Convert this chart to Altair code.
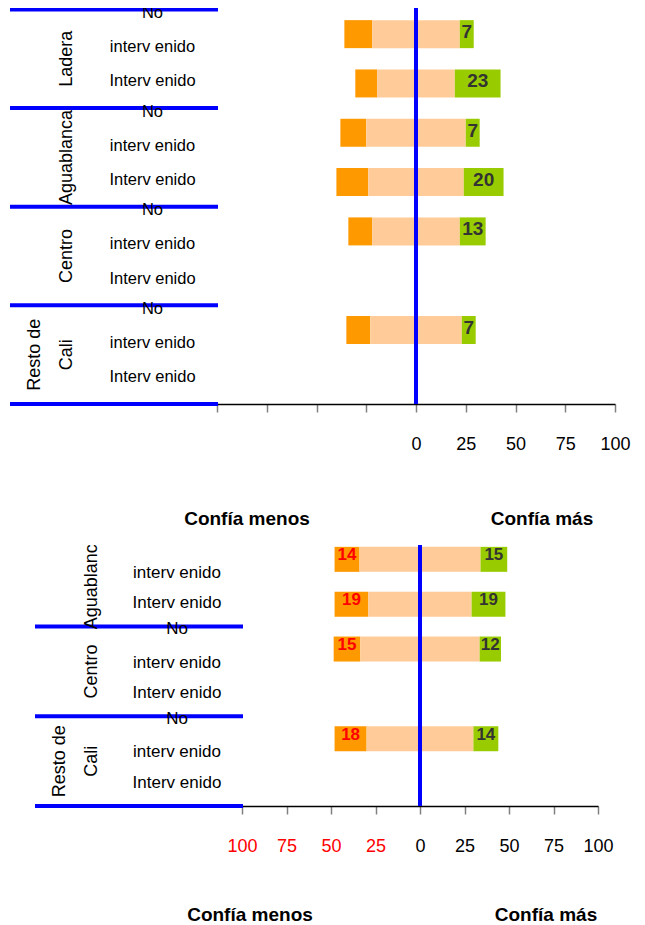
import altair as alt
import pandas as pd

FONT = "Liberation Sans, Arial, sans-serif"

ORANGE, PEACH, GREEN, BLUE = "#FF9900", "#FFCC99", "#99CC00", "#0000FF"

# ---------------- data ----------------
row_names = ["No\ninterv enido", "Interv enido"]
title_less, title_more = "Confía menos", "Confía más"

# top panel
top_groups = ["Ladera", "Aguablanca", "Centro", "Resto de\nCali"]
top_bar_group = [0, 0, 1, 1, 2, 3]          # index into top_groups
top_bar_row = [0, 1, 0, 1, 0, 0]            # 0 = No intervenido, 1 = Intervenido
top_orange = [14, 11, 13, 16, 12, 12]
top_neutral = [44, 39, 50, 48, 44, 46]
top_green = [7, 23, 7, 20, 13, 7]

# bottom panel
bot_groups = ["Aguablanca", "Centro", "Resto de\nCali"]
bot_bar_group = [0, 0, 1, 2]
bot_bar_row = [0, 1, 0, 0]
bot_orange = [14, 19, 15, 18]
bot_neutral = [68, 58, 67, 60]
bot_green = [15, 19, 12, 14]

ticks = [-100, -75, -50, -25, 0, 25, 50, 75, 100]
segs = ["menos", "neutral", "más"]


def bar_table(gi, ri, orange, neutral, green):
    recs = []
    for g, r, o, n, gr in zip(gi, ri, orange, neutral, green):
        pos = 2 * g + r + 0.5
        h = n / 2
        recs.append(dict(pos=pos, seg="menos", x0=-(h + o), x1=-h, val=o, mid=-(h + o / 2)))
        recs.append(dict(pos=pos, seg="neutral", x0=-h, x1=h, val=n, mid=0))
        recs.append(dict(pos=pos, seg="más", x0=h, x1=h + gr, val=gr, mid=h + gr / 2))
    return pd.DataFrame(recs)


def panel(groups, bars_df, ydom, W, P, H, lay):
    yscale = alt.Scale(domain=ydom, reverse=True, nice=False, zero=False, padding=0)
    xscale = alt.Scale(domain=[-100, 100], range=[W, W + P], nice=False, zero=False, padding=0)
    total = W + P

    rows = pd.DataFrame([dict(pos=2 * g + r + 0.5, r=r, label=row_names[r])
                         for g in range(len(groups)) for r in range(2)])
    grps = pd.DataFrame([dict(pos=2 * g + 1, group=name, multi=("\n" in name))
                         for g, name in enumerate(groups)])
    bdf = pd.DataFrame({"b": lay["bounds"]})
    bdf["edge"] = bdf.b < ydom[0] + 0.5

    layers = []
    # bars
    layers.append(alt.Chart(bars_df).mark_bar(orient="horizontal", size=lay["bar"]).encode(
        x=alt.X("x0:Q", scale=xscale, axis=lay["axis"], title=None),
        x2="x1:Q",
        y=alt.Y("pos:Q", scale=yscale, axis=None),
        color=alt.Color("seg:N", scale=alt.Scale(domain=segs, range=[ORANGE, PEACH, GREEN]),
                        legend=None)))
    # value labels
    for seg, color, fs, dy in lay["labels"]:
        layers.append(alt.Chart(bars_df[bars_df.seg == seg]).mark_text(
            font=FONT, fontSize=fs, fontWeight="bold", color=color, dy=dy).encode(
            x=alt.X("mid:Q", scale=xscale), y=alt.Y("pos:Q", scale=yscale, axis=None),
            text="val:Q"))
    # zero line
    layers.append(alt.Chart(pd.DataFrame({"z": [0]})).mark_rule(
        color=BLUE, strokeWidth=4, clip=True).encode(
        x=alt.X("z:Q", scale=xscale), y=alt.value(0), y2=alt.value(H)))
    # group separator lines (the one on the top edge is clipped to the plot)
    for edge in (True, False):
        sub = bdf[bdf.edge == edge]
        if len(sub):
            layers.append(alt.Chart(sub).mark_rule(color=BLUE, strokeWidth=4, clip=edge).encode(
                y=alt.Y("b:Q", scale=yscale, axis=None),
                x=alt.value(lay["line_x0"]), x2=alt.value(W + 1)))
    # row labels
    for r, dy in ((0, lay["dy_no"]), (1, lay["dy_int"])):
        layers.append(alt.Chart(rows[rows.r == r]).mark_text(
            font=FONT, fontSize=lay["row_fs"], lineBreak="\n", lineHeight=lay["row_lh"],
            baseline="middle", align="center", clip=True, dy=dy, color="#000000").encode(
            y=alt.Y("pos:Q", scale=yscale, axis=None), x=alt.value(lay["row_x"]),
            text="label:N"))
    # group labels
    for multi, gx in ((False, lay["grp_x"]), (True, lay["grp_x"] - 32)):
        sub = grps[grps.multi == multi]
        if len(sub):
            layers.append(alt.Chart(sub).mark_text(
                font=FONT, fontSize=18, angle=270, lineBreak="\n", lineHeight=32,
                baseline="middle", align="center", clip=True, color="#000000").encode(
                y=alt.Y("pos:Q", scale=yscale, axis=None), x=alt.value(gx), text="group:N"))
    # titles
    for txt, tx in zip([title_less, title_more], lay["title_x"]):
        layers.append(alt.Chart(pd.DataFrame({"t": [txt]})).mark_text(
            font=FONT, fontSize=19, fontWeight="bold", baseline="top", align="center",
            color="#000000").encode(x=alt.value(tx), y=alt.value(lay["title_y"]), text="t:N"))
    return alt.layer(*layers).properties(width=total, height=H)


axis_common = dict(values=ticks, domainColor="#000000", domainWidth=1.5, tickColor="#808080",
                   tickWidth=1.5, tickSize=8, labelFont=FONT, labelFontSize=18,
                   labelPadding=23, labelFlush=False, grid=False, labelOverlap=False)

top_axis = alt.Axis(labelExpr="datum.value >= 0 ? datum.value : ''", labelColor="#000000",
                    **axis_common)
bot_axis = alt.Axis(labelExpr="abs(datum.value)",
                    labelColor={"condition": {"test": "datum.value < 0", "value": "#FF0000"},
                                "value": "#000000"}, **axis_common)

top_df = bar_table(top_bar_group, top_bar_row, top_orange, top_neutral, top_green)
bot_df = bar_table(bot_bar_group, bot_bar_row, bot_orange, bot_neutral, bot_green)

top_chart = panel(top_groups, top_df, [-0.03, 8], 209, 398, 396, dict(
    bounds=[0, 2, 4, 6, 8], bar=28, axis=top_axis,
    labels=[("más", "#333333", 19, -2)],
    line_x0=2, row_x=144.5, row_fs=16.5, row_lh=34, dy_no=-21, dy_int=-2,
    grp_x=59, title_x=[239, 534], title_y=502))

bot_chart = panel(bot_groups, bot_df, [0.18, 6], 234, 356, 261, dict(
    bounds=[2, 4, 6], bar=25, axis=bot_axis,
    labels=[("menos", "#FF0000", 17, -4), ("más", "#333333", 17, -4)],
    line_x0=27, row_x=169, row_fs=17, row_lh=33.5, dy_no=-20, dy_int=-1,
    grp_x=84, title_x=[242, 538], title_y=361))

chart = alt.vconcat(top_chart, bot_chart, spacing=141, bounds="flush").properties(
    padding=0
).configure_view(stroke=None)

chart.save("out.html", embed_options={"renderer": "svg", "actions": False})
